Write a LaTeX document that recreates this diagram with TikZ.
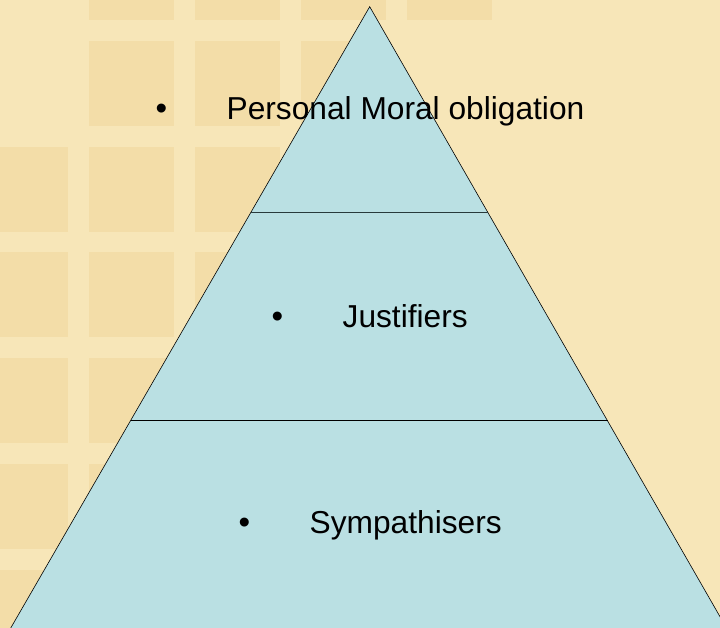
\documentclass[tikz,border=0pt]{standalone}
\usepackage{fontspec}
\setmainfont{Liberation Sans}
\definecolor{sand}{RGB}{247,230,184}
\definecolor{tilecol}{RGB}{243,221,168}
\definecolor{ice}{RGB}{186,224,227}
\definecolor{slate}{RGB}{40,58,60}
\tikzset{
  tiertext/.style={anchor=base, inner sep=0pt, font=\fontsize{31.7}{38}\selectfont},
  bulletmark/.style={anchor=base, inner sep=0pt, font=\fontsize{33}{38}\selectfont},
}
\begin{document}
\begin{tikzpicture}[x=1pt, y=-1pt]
    \useasboundingbox (0,0) rectangle (720,627);
    \clip (0,0) rectangle (720,627);
    \fill[sand] (0,0) rectangle (720,627);

    % background tiles
    \foreach \c/\r in {1/0,2/0,3/0,4/0,1/1,2/1,3/1}
      \fill[tilecol] ({-17+106*\c},{-65+105.8*\r}) rectangle ++(85,85);
    \foreach \r in {2,...,6}
      \foreach \c in {0,1,2}
        \fill[tilecol] ({-17+106*\c},{-65+105.8*\r}) rectangle ++(85,85);

    \coordinate (top) at (369.7, 6.7);
    \coordinate (bl)  at (3.8, 640);
    \coordinate (br)  at (733.4, 640);
    \coordinate (l1)  at (250.7, 212.7);
    \coordinate (r1)  at (488, 212.7);
    \coordinate (l2)  at (130.5, 420.7);
    \coordinate (r2)  at (607.5, 420.7);

    \filldraw[fill=ice, draw=black, line width=0.6pt] (top) -- (bl) -- (br) -- cycle;
    \draw[slate, line width=1.4pt] (l1) -- (r1);
    \draw[black, line width=1.2pt] (l2) -- (r2);

    \node[tiertext] at (405.5, 119) (t1) {Personal Moral obligation};
    \node[tiertext] at (405.2, 327) (t2) {Justifiers};
    \node[tiertext] at (405.7, 533) (t3) {Sympathisers};

    \node[bulletmark] at ([xshift=-65pt]t1.base west) (b1) {\textbullet};
    \node[bulletmark] at ([xshift=-65pt]t2.base west) (b2) {\textbullet};
    \node[bulletmark] at ([xshift=-65pt]t3.base west) (b3) {\textbullet};
\end{tikzpicture}
\end{document}
